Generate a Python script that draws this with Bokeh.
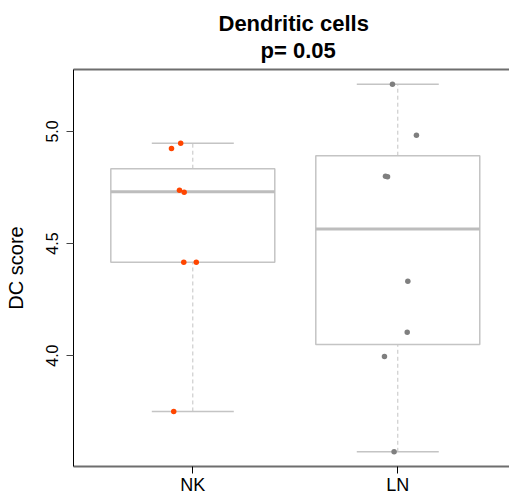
from bokeh.plotting import figure
from bokeh.models import Range1d, LinearAxis, FixedTicker, Title, ColumnDataSource
from bokeh.embed import file_html
from bokeh.resources import INLINE

# ---- data ----
groups = ["NK", "LN"]
group_pos = [1, 2]

# box statistics (whisker low, Q1, median, Q3, whisker high)
whisk_lo = [3.751, 3.571]
q1 = [4.417, 4.050]
median = [4.731, 4.565]
q3 = [4.834, 4.892]
whisk_hi = [4.948, 5.211]

# individual jittered points
nk_values = [4.948, 4.924, 4.738, 4.729, 4.417, 4.417, 3.751]
nk_jitter = [-0.059, -0.104, -0.065, -0.042, -0.044, 0.017, -0.093]
ln_values = [5.211, 4.983, 4.800, 4.798, 4.332, 4.104, 3.996, 3.571]
ln_jitter = [-0.026, 0.091, -0.060, -0.050, 0.049, 0.046, -0.065, -0.018]

y_ticks = [4.0, 4.5, 5.0]

title_line1 = "Dendritic cells"
title_line2 = "p= 0.05"
y_label = "DC score"

FONT = "Liberation Sans"
BOX_COL = "#c4c4c4"
NK_COL = "#ff4500"
LN_COL = "#7f7f7f"

all_vals = nk_values + ln_values
lo, hi = min(all_vals), max(all_vals)
pad = 0.04 * (hi - lo)

p = figure(width=509, height=498, output_backend="svg", toolbar_location=None,
           x_range=Range1d(0.418, 2.545), y_range=Range1d(lo - pad, hi + pad),
           min_border_left=73, min_border_right=0, min_border_top=69, min_border_bottom=32,
           x_axis_type=None, y_axis_type=None)
p.outline_line_color = None
p.grid.visible = False
p.background_fill_color = "white"
p.border_fill_color = "white"

# ---- axes ----
xaxis = LinearAxis(ticker=FixedTicker(ticks=group_pos),
                   major_label_overrides={1: "NK", 2: "LN"})
xaxis.major_label_text_font = FONT
xaxis.major_label_text_font_size = "18px"
xaxis.major_label_text_color = "black"
xaxis.major_tick_out = 7
xaxis.major_tick_in = 0
xaxis.minor_tick_out = 0
xaxis.minor_tick_in = 0
xaxis.major_tick_line_color = "black"
xaxis.axis_line_color = "#6e6e6e"
xaxis.axis_line_width = 2
xaxis.major_label_standoff = 1
p.add_layout(xaxis, "below")

yaxis = LinearAxis(ticker=FixedTicker(ticks=y_ticks),
                   major_label_overrides={4.0: "4.0", 4.5: "4.5", 5.0: "5.0"})
yaxis.axis_label = y_label
yaxis.axis_label_text_font = FONT
yaxis.axis_label_text_font_size = "20px"
yaxis.axis_label_text_font_style = "normal"
yaxis.axis_label_text_color = "black"
yaxis.axis_label_standoff = 17
yaxis.major_label_text_font = FONT
yaxis.major_label_text_font_size = "16px"
yaxis.major_label_text_color = "black"
yaxis.major_label_orientation = "vertical"
yaxis.major_label_standoff = 8
yaxis.major_tick_out = 7
yaxis.major_tick_in = 0
yaxis.minor_tick_out = 0
yaxis.minor_tick_in = 0
yaxis.major_tick_line_color = "#444444"
yaxis.axis_line_color = "black"
yaxis.axis_line_width = 1
p.add_layout(yaxis, "left")

top_axis = LinearAxis(ticker=FixedTicker(ticks=[]))
top_axis.major_label_text_font_size = "0px"
top_axis.axis_line_color = "#6e6e6e"
top_axis.axis_line_width = 2
top_axis.major_tick_out = 0
top_axis.minor_tick_out = 0
top_axis.major_label_standoff = 0
p.add_layout(top_axis, "above")

# ---- titles ----
t2 = Title(text=title_line2, align="left", text_font=FONT, text_font_size="22px",
           text_font_style="bold", text_color="black", offset=187, standoff=13)
p.add_layout(t2, "above")
t1 = Title(text=title_line1, align="left", text_font=FONT, text_font_size="22px",
           text_font_style="bold", text_color="black", offset=145, standoff=-12)
p.add_layout(t1, "above")

# ---- boxplots ----
half_box = 0.4
half_cap = 0.2
src = ColumnDataSource(dict(
    x=group_pos,
    left=[g - half_box for g in group_pos],
    right=[g + half_box for g in group_pos],
    cap_l=[g - half_cap for g in group_pos],
    cap_r=[g + half_cap for g in group_pos],
    lo=whisk_lo, q1=q1, med=median, q3=q3, hi=whisk_hi,
))
p.segment(x0="x", x1="x", y0="q3", y1="hi", source=src, line_color=BOX_COL,
          line_width=1, line_dash="4 3")
p.segment(x0="x", x1="x", y0="lo", y1="q1", source=src, line_color=BOX_COL,
          line_width=1, line_dash="4 3")
p.segment(x0="cap_l", x1="cap_r", y0="hi", y1="hi", source=src, line_color=BOX_COL, line_width=1.5)
p.segment(x0="cap_l", x1="cap_r", y0="lo", y1="lo", source=src, line_color=BOX_COL, line_width=1.5)
p.quad(left="left", right="right", bottom="q1", top="q3", source=src,
       fill_color="white", line_color=BOX_COL, line_width=1.5)
p.segment(x0="left", x1="right", y0="med", y1="med", source=src, line_color="#bdbdbd", line_width=3)

# ---- points ----
p.scatter(x=[group_pos[0] + j for j in nk_jitter], y=nk_values, size=5.5,
          fill_color=NK_COL, line_color=None)
p.scatter(x=[group_pos[1] + j for j in ln_jitter], y=ln_values, size=5.5,
          fill_color=LN_COL, line_color=None)

open("out.html", "w").write(file_html(p, INLINE))
